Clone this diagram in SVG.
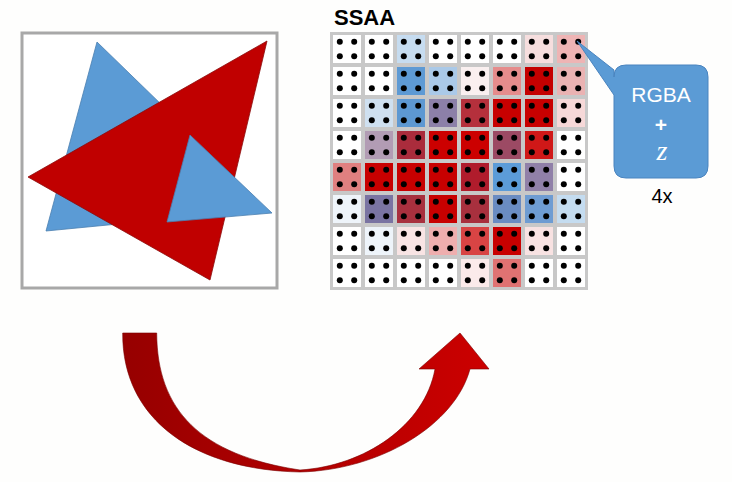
<svg xmlns="http://www.w3.org/2000/svg" xmlns:xlink="http://www.w3.org/1999/xlink" width="732" height="482" viewBox="0 0 732 482">
<defs>
<style>
.tri-red{fill:#c00000;stroke:#8a0a0a;stroke-width:0.8}
.tri-blue{fill:#5b9bd5;stroke:#4a7fb0;stroke-width:0.8}
.lbl{font-family:"Liberation Sans",Arial,sans-serif}
</style>
<pattern id="dots" x="333" y="35" width="32" height="32" patternUnits="userSpaceOnUse">
<circle cx="6.8" cy="6.8" r="3" fill="#000"/>
<circle cx="21.2" cy="6.8" r="3" fill="#000"/>
<circle cx="6.8" cy="21.2" r="3" fill="#000"/>
<circle cx="21.2" cy="21.2" r="3" fill="#000"/>
</pattern>
<linearGradient id="arrowGrad" x1="120" y1="0" x2="490" y2="0" gradientUnits="userSpaceOnUse">
<stop offset="0" stop-color="#960000"/>
<stop offset="1" stop-color="#cc0000"/>
</linearGradient>
</defs>
<rect width="732" height="482" fill="#fefefd"/>

<g id="scene">
<rect x="22" y="33" width="255" height="255" fill="#ffffff" stroke="#a8a8a8" stroke-width="3"/>
<polygon class="tri-blue" points="97,42 200,142 180,218 46,231"/>
<polygon class="tri-red" points="28,177 267,41 210,280"/>
<polygon class="tri-blue" points="190,135 272,213 167,222"/>
</g>

<g id="ssaa-grid">
<text class="lbl" x="334" y="25" font-size="22" font-weight="bold" fill="#000">SSAA</text>
<rect x="330" y="32" width="258" height="258" fill="#c8c8c8"/>
<g fill="#ffffff">
<!-- row 0 -->
<rect x="333" y="35" width="28" height="28"/><rect x="365" y="35" width="28" height="28"/><rect x="397" y="35" width="28" height="28" fill="#c6dcf0"/><rect x="429" y="35" width="28" height="28"/><rect x="461" y="35" width="28" height="28"/><rect x="493" y="35" width="28" height="28"/><rect x="525" y="35" width="28" height="28" fill="#f6dede"/><rect x="557" y="35" width="28" height="28" fill="#eeb4b4"/>
<!-- row 1 -->
<rect x="333" y="67" width="28" height="28"/><rect x="365" y="67" width="28" height="28"/><rect x="397" y="67" width="28" height="28" fill="#5e9ad4"/><rect x="429" y="67" width="28" height="28" fill="#aac9e8"/><rect x="461" y="67" width="28" height="28" fill="#faf0f0"/><rect x="493" y="67" width="28" height="28" fill="#e58c8c"/><rect x="525" y="67" width="28" height="28" fill="#c40000"/><rect x="557" y="67" width="28" height="28" fill="#eab2b2"/>
<!-- row 2 -->
<rect x="333" y="99" width="28" height="28"/><rect x="365" y="99" width="28" height="28" fill="#cfe0f0"/><rect x="397" y="99" width="28" height="28" fill="#5d98d2"/><rect x="429" y="99" width="28" height="28" fill="#8c80a8"/><rect x="461" y="99" width="28" height="28" fill="#b5303c"/><rect x="493" y="99" width="28" height="28" fill="#c80000"/><rect x="525" y="99" width="28" height="28" fill="#c80000"/><rect x="557" y="99" width="28" height="28" fill="#f6d8d8"/>
<!-- row 3 -->
<rect x="333" y="131" width="28" height="28"/><rect x="365" y="131" width="28" height="28" fill="#b29cb4"/><rect x="397" y="131" width="28" height="28" fill="#aa2c3c"/><rect x="429" y="131" width="28" height="28" fill="#cc0000"/><rect x="461" y="131" width="28" height="28" fill="#cc0000"/><rect x="493" y="131" width="28" height="28" fill="#9c4a64"/><rect x="525" y="131" width="28" height="28" fill="#d01818"/><rect x="557" y="131" width="28" height="28"/>
<!-- row 4 -->
<rect x="333" y="163" width="28" height="28" fill="#e08080"/><rect x="365" y="163" width="28" height="28" fill="#c80000"/><rect x="397" y="163" width="28" height="28" fill="#c80000"/><rect x="429" y="163" width="28" height="28" fill="#c80000"/><rect x="461" y="163" width="28" height="28" fill="#b01c2c"/><rect x="493" y="163" width="28" height="28" fill="#5c9cd8"/><rect x="525" y="163" width="28" height="28" fill="#9080a8"/><rect x="557" y="163" width="28" height="28"/>
<!-- row 5 -->
<rect x="333" y="195" width="28" height="28" fill="#eef4fa"/><rect x="365" y="195" width="28" height="28" fill="#7a74a2"/><rect x="397" y="195" width="28" height="28" fill="#a8303e"/><rect x="429" y="195" width="28" height="28" fill="#c80000"/><rect x="461" y="195" width="28" height="28" fill="#a8303e"/><rect x="493" y="195" width="28" height="28" fill="#6a8cc2"/><rect x="525" y="195" width="28" height="28" fill="#6e9cd2"/><rect x="557" y="195" width="28" height="28" fill="#c4dcf0"/>
<!-- row 6 -->
<rect x="333" y="227" width="28" height="28"/><rect x="365" y="227" width="28" height="28" fill="#eef4fa"/><rect x="397" y="227" width="28" height="28" fill="#f8e4e4"/><rect x="429" y="227" width="28" height="28" fill="#eeaeae"/><rect x="461" y="227" width="28" height="28" fill="#d84444"/><rect x="493" y="227" width="28" height="28" fill="#c80000"/><rect x="525" y="227" width="28" height="28" fill="#f8e2e2"/><rect x="557" y="227" width="28" height="28"/>
<!-- row 7 -->
<rect x="333" y="259" width="28" height="28"/><rect x="365" y="259" width="28" height="28"/><rect x="397" y="259" width="28" height="28"/><rect x="429" y="259" width="28" height="28"/><rect x="461" y="259" width="28" height="28" fill="#fbeaea"/><rect x="493" y="259" width="28" height="28" fill="#e07272"/><rect x="525" y="259" width="28" height="28"/><rect x="557" y="259" width="28" height="28"/>
</g>
<rect x="333" y="35" width="252" height="252" fill="url(#dots)"/>
</g>

<g id="callout">
<path d="M626,65 H696 Q708,65 708,77 V166 Q708,178 696,178 H626 Q614,178 614,166 V95 L577,41 L614,70 V77 Q614,65 626,65 Z" fill="#5b9bd5" stroke="#4a84bf" stroke-width="1"/>
<text class="lbl" x="661" y="102" font-size="21" fill="#ffffff" text-anchor="middle">RGBA</text>
<text class="lbl" x="661" y="132" font-size="21" font-weight="bold" fill="#ffffff" text-anchor="middle">+</text>
<text x="662" y="160" font-size="28" font-style="italic" fill="#ffffff" text-anchor="middle" font-family="'Liberation Serif','Times New Roman',serif">z</text>
<text class="lbl" x="662" y="203" font-size="20" fill="#000000" text-anchor="middle">4x</text>
</g>

<g id="connectors">
<path d="M122.7,333 L156.7,333 C157,410 200,455 300,470 C365,466 425,425 435,369 L419,369 L460,333 L489,369 L470,369 C455,425 380,470 300,472 C195,470 122,420 122.7,333 Z" fill="url(#arrowGrad)" stroke="#7a0000" stroke-width="0.6"/>
</g>
</svg>
